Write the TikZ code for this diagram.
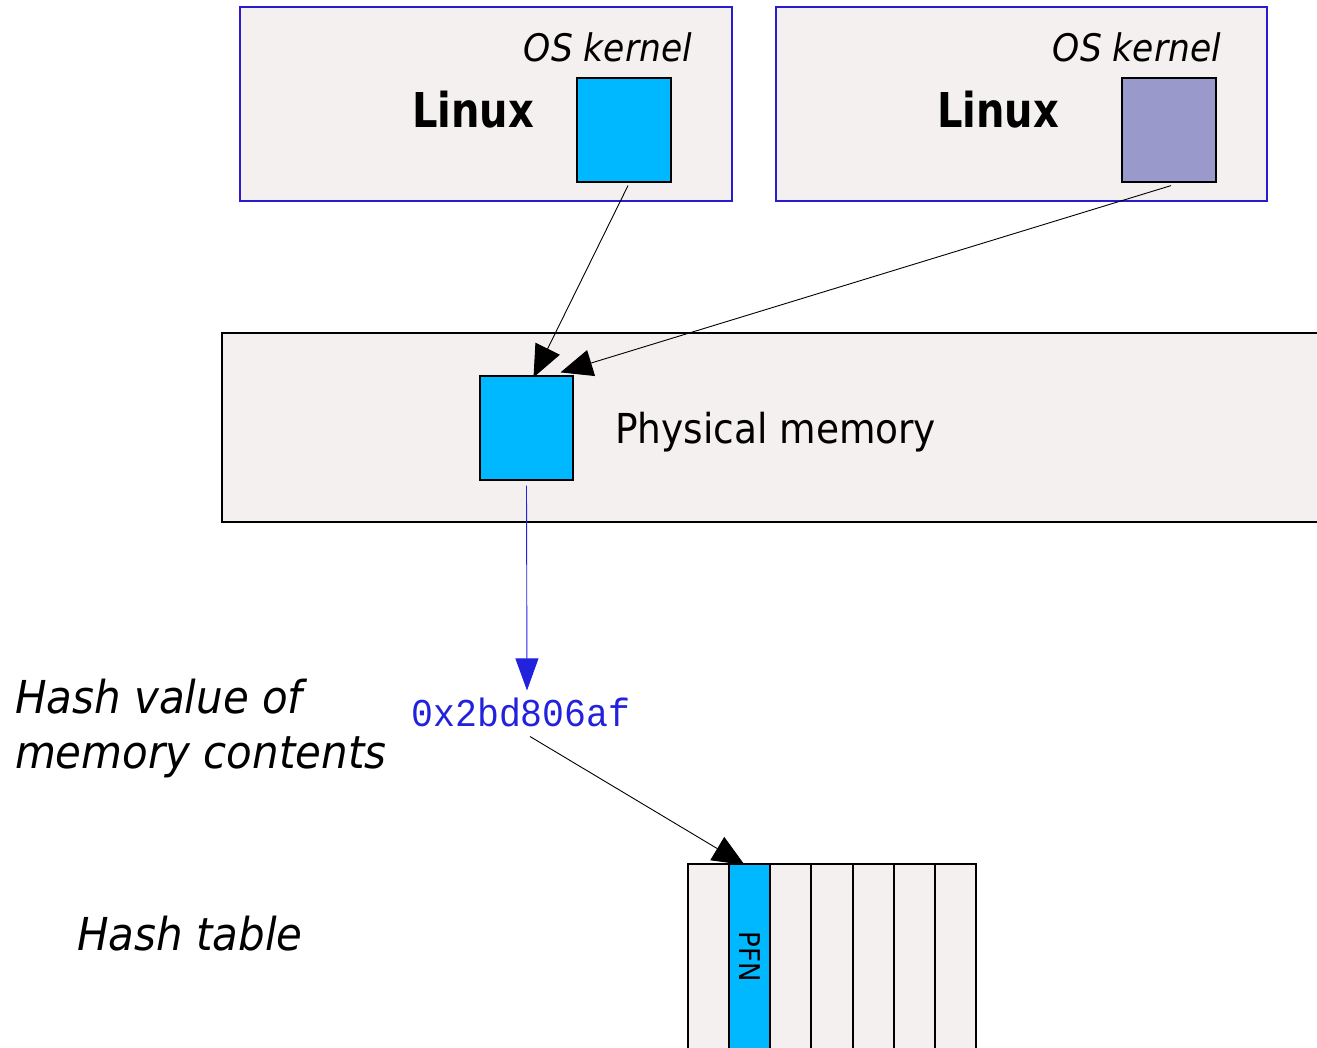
\documentclass[tikz,border=0pt]{standalone}
\usepackage{fontspec}
\setmainfont{DejaVu Sans}
\setmonofont{Liberation Mono}
\usetikzlibrary{arrows.meta,calc}
\definecolor{boxfill}{HTML}{F4F0EF}
\definecolor{boxblue}{HTML}{2A1AD0}
\definecolor{pagecyan}{HTML}{00B8FF}
\definecolor{pagepurple}{HTML}{9999CC}
\definecolor{hashblue}{HTML}{2222DD}
\newcommand{\vstr}[2]{\scalebox{1}[#1]{#2}}
\tikzset{
  kernelbox/.style={draw=boxblue, fill=boxfill, line width=1.2pt},
  membox/.style={draw=black, fill=boxfill, line width=1.2pt},
  pagesq/.style={draw=black, line width=1.2pt},
  conn/.style={draw=black, line width=0.9pt, -{Triangle[length=32pt,width=27pt]}},
  hashconn/.style={draw=hashblue, line width=0.9pt, -{Triangle[length=32pt,width=23pt]}},
  cellline/.style={draw=black, line width=2pt},
  lbl/.style={inner sep=0pt, outer sep=0pt},
}
\begin{document}
\begin{tikzpicture}[x=1pt,y=-1pt]
\useasboundingbox (0,0) rectangle (1317,1047);
% kernel boxes
\draw[kernelbox] (240,7) rectangle (732,201);
\draw[kernelbox] (776,7) rectangle (1267,201);
\node[lbl, anchor=base east, font=\itshape\fontsize{34.5}{40}\selectfont] (os1) at (692,61) {\vstr{1.1}{OS kernel}};
\node[lbl, anchor=base east, font=\itshape\fontsize{34.5}{40}\selectfont] (os2) at (1221,61) {\vstr{1.1}{OS kernel}};
\node[lbl, anchor=base west, font=\bfseries\fontsize{40}{46}\selectfont] (lx1) at (412,127) {\vstr{1.2}{Linux}};
\node[lbl, anchor=base west, font=\bfseries\fontsize{40}{46}\selectfont] (lx2) at (937,127) {\vstr{1.2}{Linux}};
\node[pagesq, fill=pagecyan, minimum width=94pt, minimum height=104pt, inner sep=0pt] (k1) at (624,130) {};
\node[pagesq, fill=pagepurple, minimum width=94pt, minimum height=104pt, inner sep=0pt] (k2) at (1169,130) {};
% physical memory
\draw[membox] (222,333) rectangle (1330,522);
\node[pagesq, fill=pagecyan, minimum width=93pt, minimum height=104pt, inner sep=0pt] (pm) at (526.5,428) {};
\node[lbl, anchor=base west, font=\fontsize{37.5}{44}\selectfont] (pmtxt) at (615,443) {\vstr{1.1}{Physical memory}};
% hash value
\node[lbl, anchor=base, font=\ttfamily\fontsize{36.5}{42}\selectfont, text=hashblue] (hv) at (521,726) {\vstr{1.08}{0x2bd806af}};
\node[lbl, anchor=base west, font=\itshape\fontsize{42}{57}\selectfont] (hvl) at (15,713) {\vstr{1.08}{Hash value of}};
\node[lbl, anchor=base west, font=\itshape\fontsize{42}{57}\selectfont] (hvl2) at (15,768) {\vstr{1.08}{memory contents}};
\node[lbl, anchor=base west, font=\itshape\fontsize{42}{50}\selectfont] (htl) at (77,950) {\vstr{1.08}{Hash table}};
% hash table
\fill[boxfill] (688,864) rectangle (976,1060);
\node[lbl, fill=pagecyan, minimum width=41.14pt, minimum height=196pt, anchor=north west] (pfn) at (729.14,864) {};
\foreach \i in {0,...,7} {
  \draw[cellline] ({688+\i*41.14},864) -- ({688+\i*41.14},1060);
}
\draw[cellline] (687,864) -- (977,864);
\node[lbl, rotate=-90, font=\fontsize{26}{30}\selectfont] (pfnt) at (749.5,957) {\vstr{1.1}{PFN}};
% connectors
\draw[conn] ($(k1.south)+(4,3)$) -- ($(pm.north)+(7,2)$);
\draw[conn] ($(k2.south)+(2,3)$) -- ($(pm.north)+(34,-3)$);
\draw[hashconn] ($(pm.south)+(0,5)$) -- ($(hv.north)+(6,-7)$);
\draw[conn] ($(hv.south)+(9,10)$) -- ($(pfn.north)+(-5,1)$);
\end{tikzpicture}
\end{document}
